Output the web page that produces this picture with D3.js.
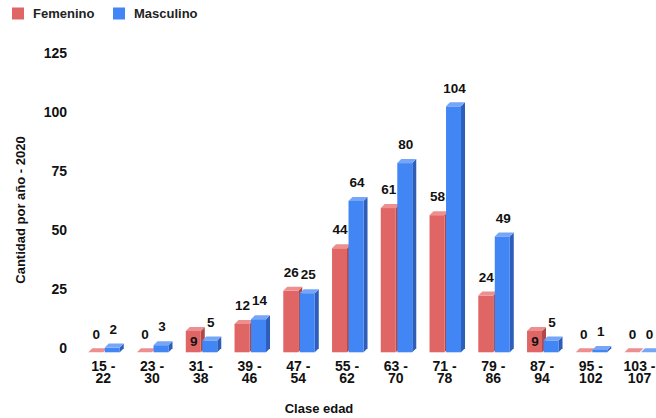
<!DOCTYPE html>
<html>
<head>
<meta charset="utf-8">
<script src="https://cdn.jsdelivr.net/npm/d3@7/dist/d3.min.js"></script>
<style>
  html, body { margin: 0; padding: 0; background: #fff; }
  svg { display: block; font-family: "Liberation Sans", Arial, sans-serif; }
</style>
</head>
<body>
<svg id="chart" width="656" height="418"></svg>
<script>
const categories = ["15 - 22", "23 - 30", "31 - 38", "39 - 46", "47 - 54", "55 - 62", "63 - 70", "71 - 78", "79 - 86", "87 - 94", "95 - 102", "103 - 107"];
const femenino = [0, 0, 9, 12, 26, 44, 61, 58, 24, 9, 0, 0];
const masculino = [2, 3, 5, 14, 25, 64, 80, 104, 49, 5, 1, 0];
const seriesNames = ["Femenino", "Masculino"];
const yTicks = [0, 25, 50, 75, 100, 125];

const colors = {
  Femenino: { front: "#e06666", side: "#b04848", top: "#ee8f8f" },
  Masculino: { front: "#4285f4", side: "#2d5fba", top: "#76a6f7" }
};

const svg = d3.select("#chart");
const depth = 4;

const x = d3.scaleBand().domain(categories).range([78.9, 663.9]).padding(0);
const y = d3.scaleLinear().domain([0, 125]).range([348.3, 52.7]); // back plane
const cx = c => x(c) + x.bandwidth() / 2;

// Y tick labels
svg.append("g").selectAll("text").data(yTicks).join("text")
  .attr("x", 67).attr("y", d => y(d))
  .attr("dy", "0.35em").attr("text-anchor", "end")
  .attr("font-size", 14).attr("font-weight", "bold").attr("fill", "#111")
  .text(d => d);

// Bars
const barW = 15;
const bars = [];
categories.forEach((c, i) => {
  bars.push({ cat: c, s: "Femenino", v: femenino[i], x0: cx(c) - 15, other: masculino[i] });
  bars.push({ cat: c, s: "Masculino", v: masculino[i], x0: cx(c) + 1.5, other: femenino[i] });
});

const g = svg.append("g");
bars.forEach(b => {
  const col = colors[b.s];
  const x0 = b.x0, x1 = b.x0 + barW;
  const yb = y(0) + depth;       // front base
  const yt = y(b.v) + depth;     // front top
  const grp = g.append("g");
  grp.append("polygon")
    .attr("points", [[x1, yt], [x1 + depth, yt - depth], [x1 + depth, yb - depth], [x1, yb]].join(" "))
    .attr("fill", col.side);
  if (yb - yt > 0) {
    grp.append("rect").attr("x", x0).attr("y", yt).attr("width", barW).attr("height", yb - yt)
      .attr("fill", col.front);
  }
  grp.append("polygon")
    .attr("points", [[x0, yt], [x1, yt], [x1 + depth, yt - depth], [x0 + depth, yt - depth]].join(" "))
    .attr("fill", col.top);
});

// Value labels
bars.forEach(b => {
  const inside = b.s === "Femenino" && b.v > b.other + 1 && b.v < 15;
  const lx = b.s === "Femenino" ? b.x0 + barW / 2 + 0.5 : b.x0 + barW / 2 + 1;
  const ly = inside ? (y(b.v) + depth + y(0) + depth) / 2 : y(b.v) - 14.5;
  svg.append("text")
    .attr("x", lx).attr("y", ly).attr("dy", "0.35em")
    .attr("text-anchor", "middle")
    .attr("font-size", 13.5).attr("font-weight", "bold").attr("fill", "#111")
    .text(b.v);
});

// X category labels (two lines)
const xg = svg.append("g");
categories.forEach(d => {
  const parts = d.split(" - ");
  xg.append("text")
    .attr("x", cx(d)).attr("y", 366).attr("dy", "0.35em")
    .attr("text-anchor", "middle")
    .attr("font-size", 14).attr("font-weight", "bold").attr("fill", "#111")
    .text(parts[0] + " -");
  xg.append("text")
    .attr("x", cx(d)).attr("y", 378.5).attr("dy", "0.35em")
    .attr("text-anchor", "middle")
    .attr("font-size", 14).attr("font-weight", "bold").attr("fill", "#111")
    .text(parts[1]);
});

// Axis titles
svg.append("text")
  .attr("x", 319).attr("y", 408).attr("dy", "0.35em")
  .attr("text-anchor", "middle")
  .attr("font-size", 13).attr("font-weight", "bold").attr("fill", "#111")
  .text("Clase edad");

svg.append("text")
  .attr("transform", "translate(20,210) rotate(-90)")
  .attr("dy", "0.35em")
  .attr("text-anchor", "middle")
  .attr("font-size", 13).attr("font-weight", "bold").attr("fill", "#111")
  .text("Cantidad por año - 2020");

// Legend
const legendX = [12, 113];
seriesNames.forEach((s, i) => {
  svg.append("rect").attr("x", legendX[i]).attr("y", 7.5).attr("width", 12).attr("height", 12)
    .attr("fill", colors[s].front);
  svg.append("text").attr("x", legendX[i] + 21).attr("y", 13.5).attr("dy", "0.35em")
    .attr("font-size", 13).attr("font-weight", "bold").attr("fill", "#222")
    .text(s);
});
</script>
</body>
</html>
